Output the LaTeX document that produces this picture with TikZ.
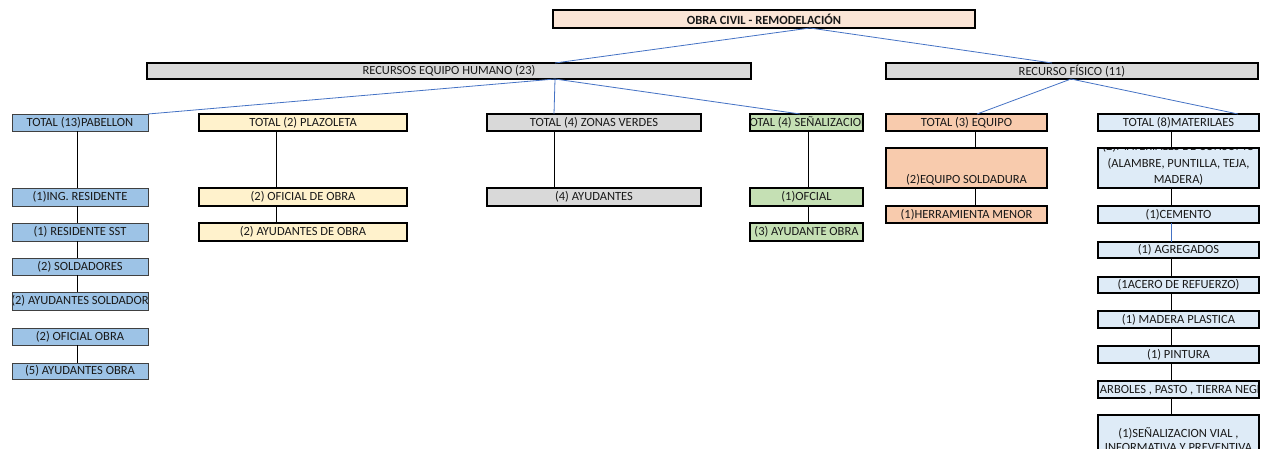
\documentclass[tikz,border=0pt]{standalone}
\usepackage{fontspec}
\setmainfont{Carlito}
\usetikzlibrary{fit,calc}

\definecolor{durazno}{HTML}{FBE5D6}
\definecolor{gris}{HTML}{D9D9D9}
\definecolor{azulpab}{HTML}{9DC3E6}
\definecolor{crema}{HTML}{FFF2CC}
\definecolor{verde}{HTML}{C5E0B4}
\definecolor{naranja}{HTML}{F8CBAD}
\definecolor{celeste}{HTML}{DEEBF7}
\definecolor{enlace}{HTML}{4472C4}

\tikzset{
  etiqueta/.style={inner sep=0pt, align=center, text=black!90,
                   font=\fontsize{12.5}{16.7}\selectfont},
  grueso/.style={draw=black, line width=1.4pt},
  fino/.style={draw=black!75, line width=0.9pt},
  rama/.style={draw=enlace, line width=0.8pt},
  tallo/.style={draw=black, line width=0.9pt},
}

% \caja[text options]{name}{corner}{corner}{fill}{border}{text}
\newcommand\caja[7][]{%
  \node[fit={(#3)(#4)}, inner sep=0pt, outer sep=0pt, fill=#5] (#2) {};
  \begin{scope}
    \clip (#2.south west) rectangle (#2.north east);
    \node[etiqueta, #1] (#2-t) at (#2.center) {#7};
  \end{scope}
  \draw[#6] (#2.south west) rectangle (#2.north east);
}

\begin{document}
\begin{tikzpicture}[x=1pt, y=-1pt]
\useasboundingbox (0,0) rectangle (1265,448);

% root and the two resource groups
\caja{raiz}{553,10}{975,28}{durazno}{grueso}{\textbf{OBRA CIVIL - REMODELACIÓN}}
\caja{humano}{147,63}{751,79}{gris}{grueso}{RECURSOS EQUIPO HUMANO (23)}
\caja{fisico}{886,63}{1258,79}{gris}{grueso}{RECURSO FÍSICO (11)}

% second level
\caja{pab}{12,114}{148,131}{azulpab}{fino}{TOTAL (13)PABELLON}
\caja{plaz}{199,114}{407,131}{crema}{grueso}{TOTAL (2) PLAZOLETA}
\caja{zonas}{487,114}{701,131}{gris}{grueso}{TOTAL (4) ZONAS VERDES}
\caja{senal}{750,114}{863,131}{verde}{grueso}{TOTAL (4) SEÑALIZACION}
\caja{equipo}{886,114}{1047,131}{naranja}{grueso}{TOTAL (3) EQUIPO}
\caja{mat}{1098,114}{1259,131}{celeste}{grueso}{TOTAL (8)MATERILAES}

% pabellon
\caja{pab1}{12,188}{148,206}{azulpab}{fino}{(1)ING. RESIDENTE}
\caja{pab2}{12,223}{148,241}{azulpab}{fino}{(1) RESIDENTE SST}
\caja{pab3}{12,258}{148,275}{azulpab}{fino}{(2) SOLDADORES}
\caja{pab4}{12,292}{148,310}{azulpab}{fino}{(2) AYUDANTES SOLDADOR}
\caja{pab5}{12,328}{148,345}{azulpab}{fino}{(2) OFICIAL OBRA}
\caja{pab6}{12,363}{148,379}{azulpab}{fino}{(5) AYUDANTES OBRA}

% plazoleta
\caja{plaz1}{199,188}{407,206}{crema}{grueso}{(2) OFICIAL DE OBRA}
\caja{plaz2}{199,223}{407,241}{crema}{grueso}{(2) AYUDANTES DE OBRA}

% zonas verdes
\caja{zonas1}{487,188}{701,206}{gris}{grueso}{(4) AYUDANTES}

% señalizacion
\caja{senal1}{750,188}{863,206}{verde}{grueso}{(1)OFCIAL}
\caja{senal2}{750,223}{863,241}{verde}{grueso}{(3) AYUDANTE OBRA}

% equipo
\caja[yshift=-12pt]{equipo1}{886,148}{1047,188}{naranja}{grueso}{(2)EQUIPO SOLDADURA}
\caja{equipo2}{886,206}{1047,223}{naranja}{grueso}{(1)HERRAMIENTA MENOR}

% materiales
\caja[yshift=4.5pt]{mat1}{1098,148}{1259,188}{celeste}{grueso}{(2)MATERIALES DE CONSUMO\\(ALAMBRE, PUNTILLA, TEJA,\\MADERA)}
\caja{mat2}{1098,206}{1259,223}{celeste}{grueso}{(1)CEMENTO}
\caja{mat3}{1098,242}{1259,258}{celeste}{grueso}{(1) AGREGADOS}
\caja{mat4}{1098,277}{1259,293}{celeste}{grueso}{(1ACERO DE REFUERZO)}
\caja{mat5}{1098,311}{1259,328}{celeste}{grueso}{(1) MADERA PLASTICA}
\caja{mat6}{1098,346}{1259,363}{celeste}{grueso}{(1) PINTURA}
\caja{mat7}{1098,381}{1259,398}{celeste}{grueso}{(1)ARBOLES , PASTO , TIERRA NEGRA}
\caja[yshift=-3pt, font=\fontsize{12.5}{14}\selectfont]{mat8}{1098,415}{1259,458}{celeste}{grueso}{(1)SEÑALIZACION VIAL ,\\INFORMATIVA Y PREVENTIVA}

% connector axes
\coordinate (jRaiz) at (810,0);
\coordinate (jHum) at (555,0);
\coordinate (jFis) at (1052,0);
\coordinate (jFisB) at (1071,0);
\coordinate (jSen) at (800,0);
\coordinate (jEq) at (977,0);
\coordinate (jMat) at (1238,0);
\coordinate (ePab) at (77,0);
\coordinate (ePlaz) at (276,0);
\coordinate (eZon) at (554,0);
\coordinate (eSen) at (808,0);
\coordinate (eEq) at (975,0);
\coordinate (eMat) at (1171,0);

% blue branches
\draw[rama] (raiz.south -| jRaiz) -- (humano.north -| jHum);
\draw[rama] (raiz.south -| jRaiz) -- (fisico.north -| jFis);
\draw[rama] (humano.south -| jHum) -- (pab.north east);
\draw[rama] (humano.south -| jHum) -- (zonas.north -| eZon);
\draw[rama] (humano.south -| jHum) -- (senal.north -| jSen);
\draw[rama] (fisico.south -| jFisB) -- (equipo.north -| jEq);
\draw[rama] (fisico.south -| jFisB) -- (mat.north -| jMat);

% vertical stems
\draw[tallo] (pab.south -| ePab) -- (pab1.north -| ePab);
\draw[tallo] (pab1.south -| ePab) -- (pab2.north -| ePab);
\draw[tallo] (pab2.south -| ePab) -- (pab3.north -| ePab);
\draw[tallo] (pab3.south -| ePab) -- (pab4.north -| ePab);
\draw[tallo] (pab5.south -| ePab) -- (pab6.north -| ePab);

\draw[tallo] (plaz.south -| ePlaz) -- (plaz1.north -| ePlaz);
\draw[tallo] (plaz1.south -| ePlaz) -- (plaz2.north -| ePlaz);

\draw[tallo] (zonas.south -| eZon) -- (zonas1.north -| eZon);

\draw[tallo] (senal.south -| eSen) -- (senal1.north -| eSen);
\draw[tallo] (senal1.south -| eSen) -- (senal2.north -| eSen);

\draw[tallo] (equipo.south -| eEq) -- (equipo1.north -| eEq);
\draw[tallo] (equipo1.south -| eEq) -- (equipo2.north -| eEq);

\draw[tallo] (mat.south -| eMat) -- (mat1.north -| eMat);
\draw[tallo] (mat1.south -| eMat) -- (mat2.north -| eMat);
\draw[rama]  (mat2.south -| eMat) -- (mat3.north -| eMat);
\draw[tallo] (mat3.south -| eMat) -- (mat4.north -| eMat);
\draw[tallo] (mat4.south -| eMat) -- (mat5.north -| eMat);
\draw[tallo] (mat5.south -| eMat) -- (mat6.north -| eMat);
\draw[tallo] (mat6.south -| eMat) -- (mat7.north -| eMat);
\draw[tallo] (mat7.south -| eMat) -- (mat8.north -| eMat);
\end{tikzpicture}
\end{document}
